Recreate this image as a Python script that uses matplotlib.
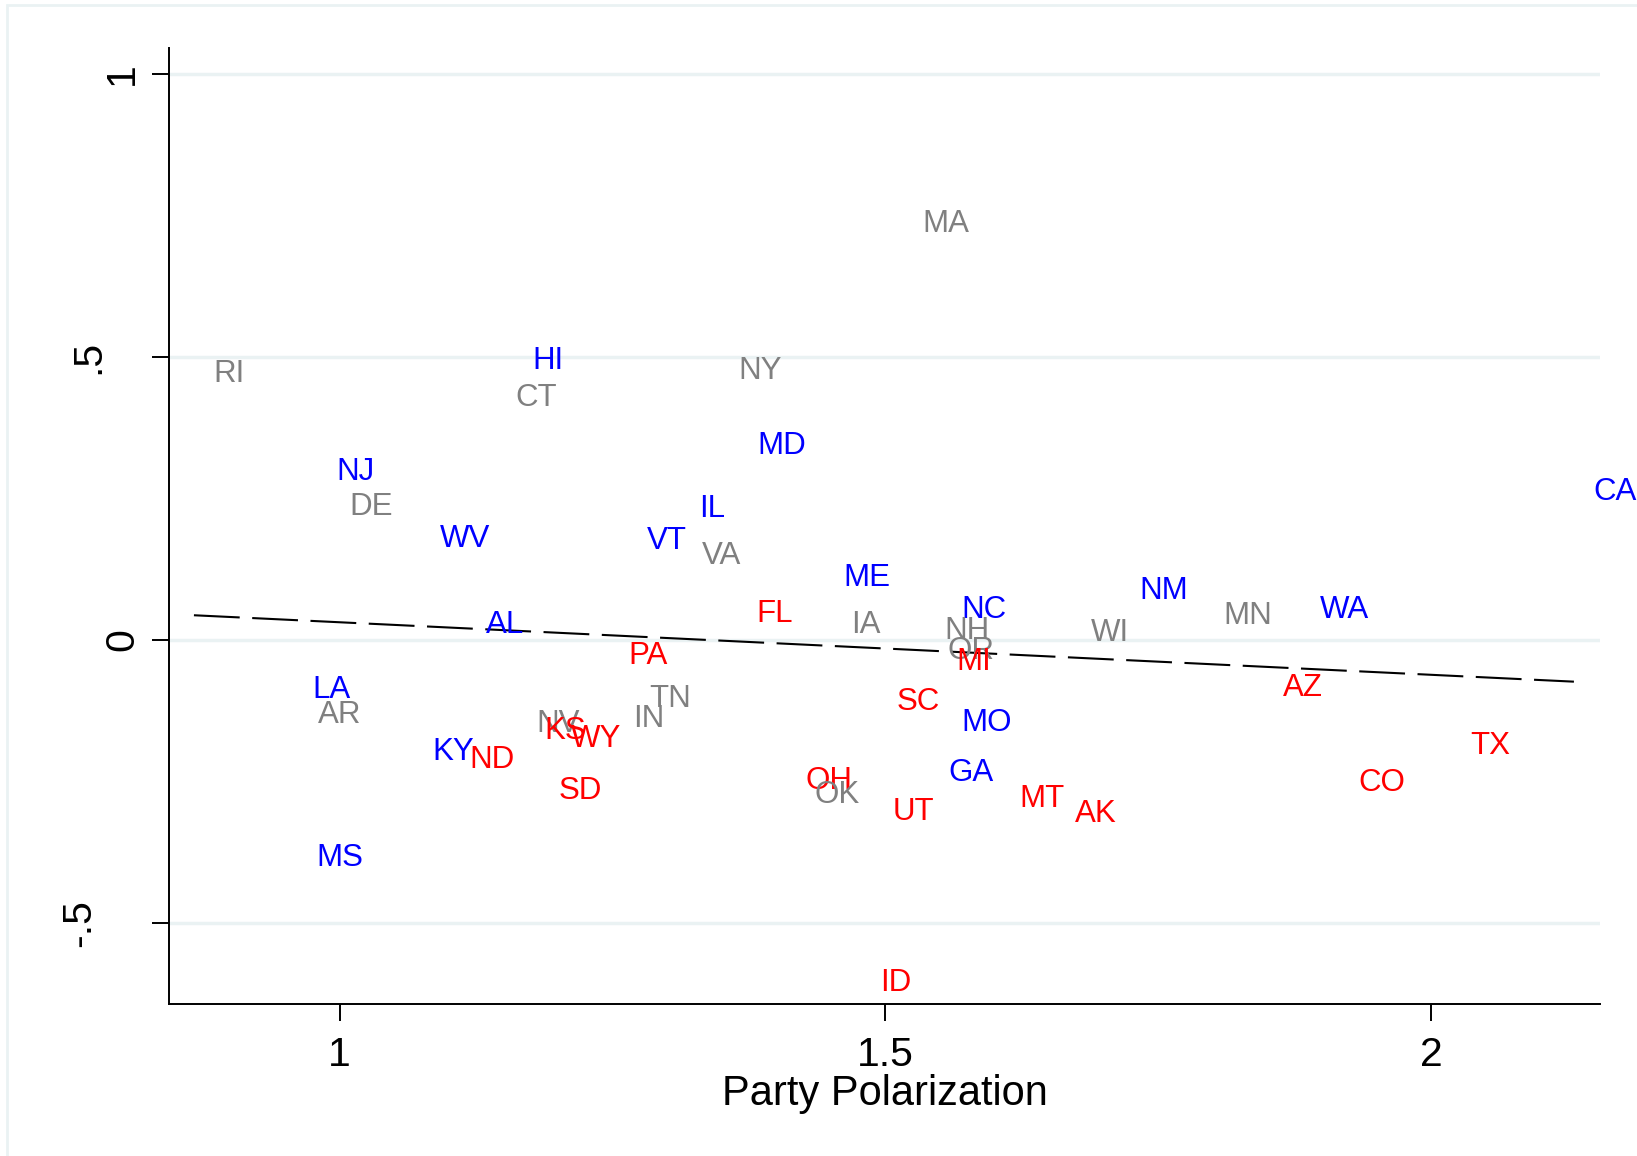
### imports
import numpy as np
import matplotlib
matplotlib.use('Agg')
import matplotlib.pyplot as plt
from matplotlib.patches import Rectangle
from matplotlib.transforms import ScaledTranslation

### data
states = ['RI', 'HI', 'CT', 'NY', 'MD', 'NJ', 'DE', 'WV', 'IL', 'VT', 'VA', 'MA',
          'AL', 'PA', 'LA', 'AR', 'TN', 'IN', 'NV', 'KS', 'WY', 'KY', 'ND', 'SD', 'MS',
          'ME', 'FL', 'IA', 'NC', 'NH', 'OR', 'MI', 'WI', 'NM', 'MN', 'WA', 'CA',
          'SC', 'MO', 'AZ', 'TX', 'CO', 'GA', 'OH', 'OK', 'UT', 'MT', 'AK', 'ID']

polarization = [0.8665, 1.159, 1.143, 1.3475, 1.365, 0.979, 0.991, 1.074, 1.312, 1.264, 1.3145, 1.516,
                1.116, 1.247, 0.957, 0.962, 1.266, 1.251, 1.1625, 1.1695, 1.194, 1.067, 1.101, 1.183, 0.961,
                1.444, 1.364, 1.451, 1.552, 1.536, 1.539, 1.547, 1.671, 1.715, 1.792, 1.880, 2.131,
                1.493, 1.552, 1.847, 2.018, 1.916, 1.540, 1.409, 1.417, 1.489, 1.605, 1.656, 1.477]

resid = [0.4756, 0.4991, 0.4334, 0.4806, 0.3489, 0.3018, 0.2406, 0.1841, 0.2371, 0.1811, 0.1546, 0.7412,
         0.0323, -0.023, -0.0825, -0.1267, -0.0986, -0.1346, -0.1428, -0.1546, -0.1693, -0.1917, -0.2064, -0.2606, -0.3793,
         0.1152, 0.0516, 0.0323, 0.0588, 0.0221, -0.0147, -0.0332, 0.0171, 0.0913, 0.0481, 0.0583, 0.2668,
         -0.1037, -0.1408, -0.0799, -0.1811, -0.2477, -0.2297, -0.2429, -0.2686, -0.2981, -0.2753, -0.3018, -0.6012]

# D = bleu, R = rouge, S = gris
control = ['S', 'D', 'S', 'S', 'D', 'D', 'S', 'D', 'D', 'D', 'S', 'S',
           'D', 'R', 'D', 'S', 'S', 'S', 'S', 'R', 'R', 'D', 'R', 'R', 'D',
           'D', 'R', 'S', 'D', 'S', 'S', 'R', 'S', 'D', 'S', 'D', 'D',
           'R', 'D', 'R', 'R', 'R', 'D', 'R', 'S', 'R', 'R', 'R', 'R']

# droite lfit
fit_intercept = 0.1241
fit_slope = -0.0928

yticks = [-0.5, 0, 0.5, 1]
yticklabels = ['-.5', '0', '.5', '1']
xticks = [1, 1.5, 2]
xticklabels = ['1', '1.5', '2']

### param
couleurs = {'D': '#0000FF', 'R': '#FF0000', 'S': '#808080'}
grille = '#EAF2F3'
plt.rcParams['font.family'] = ['Liberation Sans', 'DejaVu Sans']

fig = plt.figure(figsize=(16.37, 11.56), dpi=100)
ax = fig.add_axes([0.1032, 0.1315, 0.8742, 0.827])

# cadre exterieur
fig.patches.append(Rectangle((7/1637, -0.1), 1.2, 1.1 - 5/1156, transform=fig.transFigure,
                             fill=False, edgecolor=grille, linewidth=2))

x = np.array(polarization)
y = np.array(resid)

# droite de regression
xl = np.array([x.min(), x.max()])
ax.plot(xl, fit_intercept + fit_slope*xl, color='black', linewidth=1.5,
        linestyle=(0, (22, 6)), zorder=3)

for i in range(len(states)):
    ax.annotate(states[i], (x[i], y[i]), xytext=(14, -8), textcoords='offset points',
                ha='left', va='baseline', fontsize=22.5, color=couleurs[control[i]],
                annotation_clip=False, zorder=4)

for t in yticks:
    ax.axhline(t, color=grille, linewidth=2.5, zorder=1)

ax.set_xlim(0.8436, 2.1549)
ax.set_ylim(-0.6431, 1.0459)
ax.set_xticks(xticks)
ax.set_xticklabels(xticklabels)
ax.set_yticks(yticks)
ax.set_yticklabels(yticklabels, rotation=90, va='center')
ax.tick_params(axis='both', length=12, width=1.4, labelsize=29.5)
ax.tick_params(axis='x', pad=11)
ax.tick_params(axis='y', pad=8)
ax.spines['top'].set_visible(False)
ax.spines['right'].set_visible(False)
ax.spines['left'].set_linewidth(1.4)
ax.spines['bottom'].set_linewidth(1.4)
ax.set_xlabel('Party Polarization', fontsize=30, labelpad=0)

# decalage des labels y comme dans Stata
decal = {'.5': -34, '-.5': -43}
for lab in ax.get_yticklabels():
    d = decal.get(lab.get_text(), 0)
    if d:
        lab.set_transform(lab.get_transform() + ScaledTranslation(d/100, 0, fig.dpi_scale_trans))

fig.savefig('out.png', dpi=100)
